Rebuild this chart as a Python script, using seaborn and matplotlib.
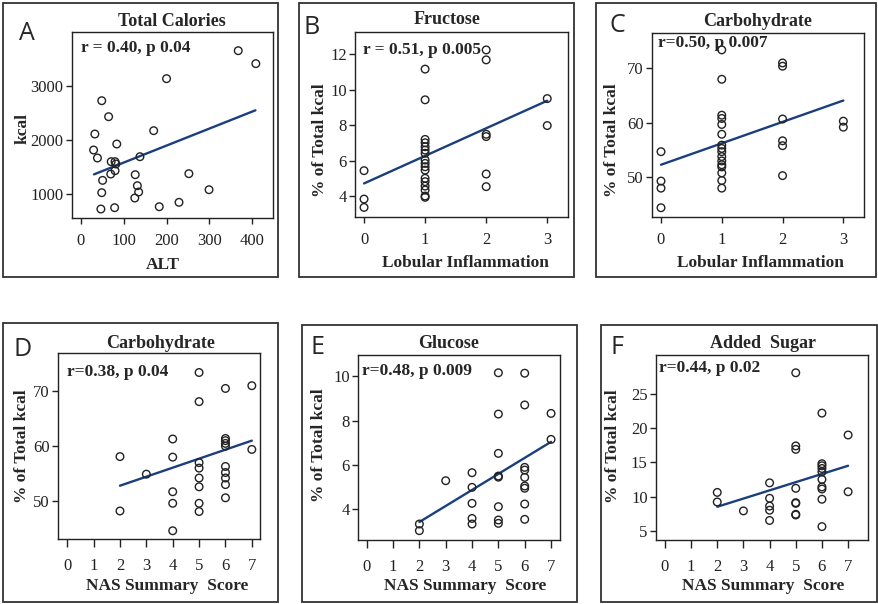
import matplotlib
matplotlib.use("Agg")
import matplotlib.pyplot as plt
from matplotlib.patches import Rectangle
import pandas as pd
import seaborn as sns

# ---------------- data ----------------
# A: Total calories vs ALT
alt_A = [367, 408, 200, 49, 65, 33, 170, 30, 84, 39, 71, 80, 82, 138,
         80, 70, 127, 252, 51, 132, 135, 49, 126, 299, 229, 183, 79, 47]
kcal_A = [3654, 3414, 3136, 2728, 2432, 2111, 2173, 1815, 1926, 1667, 1599,
          1599, 1556, 1691, 1432, 1370, 1358, 1377, 1253, 1154, 1037, 1025,
          926, 1080, 846, 765, 747, 722]

# B: Fructose vs lobular inflammation
lob_B = [0, 0, 0,
         1, 1, 1, 1, 1, 1, 1, 1, 1, 1, 1, 1, 1, 1, 1, 1, 1,
         2, 2, 2, 2, 2, 2,
         3, 3]
fru_B = [5.43, 3.83, 3.36,
         11.15, 9.42, 7.19, 7.0, 6.78, 6.59, 6.41, 6.03, 5.84, 5.65, 5.46,
         5.0, 4.81, 4.56, 4.34, 4.0, 3.93,
         12.23, 11.67, 7.48, 7.35, 5.24, 4.53,
         9.49, 7.97]

# C: Carbohydrate vs lobular inflammation
lob_C = [0, 0, 0, 0,
         1, 1, 1, 1, 1, 1, 1, 1, 1, 1, 1, 1, 1, 1, 1, 1,
         2, 2, 2, 2, 2, 2,
         3, 3]
carb_C = [54.7, 49.3, 48.0, 44.4,
          73.4, 68.0, 61.4, 60.8, 59.7, 57.9, 55.9, 55.3, 54.7, 53.8, 53.0,
          52.3, 51.9, 50.8, 49.4, 48.0,
          71.0, 70.4, 60.7, 56.7, 55.8, 50.3,
          60.3, 59.2]

# D: Carbohydrate vs NAS summary score
nas_D = [2, 2, 3, 4, 4, 4, 4, 4,
         5, 5, 5, 5, 5, 5, 5, 5,
         6, 6, 6, 6, 6, 6, 6, 6, 6, 6,
         7, 7]
carb_D = [58.0, 48.1, 54.8, 61.2, 57.9, 51.6, 49.5, 44.5,
          73.3, 68.0, 56.9, 55.9, 54.1, 52.5, 49.5, 48.0,
          70.4, 61.3, 60.9, 60.4, 59.9, 56.2, 55.1, 54.1, 52.9, 50.5,
          70.9, 59.3]

# E: Glucose vs NAS summary score
nas_E = [2, 2, 3, 4, 4, 4, 4, 4,
         5, 5, 5, 5, 5, 5, 5, 5,
         6, 6, 6, 6, 6, 6, 6, 6, 6,
         7, 7]
glu_E = [3.34, 3.04, 5.29, 5.65, 4.99, 4.27, 3.59, 3.34,
         10.15, 8.29, 6.52, 5.5, 5.45, 4.12, 3.52, 3.37,
         10.13, 8.70, 5.89, 5.77, 5.44, 5.05, 4.95, 4.24, 3.55,
         8.32, 7.15]

# F: Added sugar vs NAS summary score
nas_F = [2, 2, 3, 4, 4, 4, 4, 4,
         5, 5, 5, 5, 5, 5, 5, 5,
         6, 6, 6, 6, 6, 6, 6, 6, 6, 6,
         7, 7]
sug_F = [10.6, 9.2, 7.9, 12.0, 9.74, 8.6, 8.0, 6.5,
         28.1, 17.4, 16.9, 11.2, 9.1, 9.0, 7.4, 7.3,
         22.2, 14.8, 14.5, 14.1, 13.6, 12.5, 11.4, 11.1, 9.6, 5.6,
         19.0, 10.7]

# fitted regression lines as drawn in the reference (end points)
fit_x_A = [31, 407]
fit_y_A = [1364, 2550]
fit_x_B = [0, 3]
fit_y_B = [4.71, 9.37]
fit_x_C = [0, 3]
fit_y_C = [52.3, 64.1]
fit_x_D = [2, 7]
fit_y_D = [52.7, 60.9]
fit_x_E = [2, 7]
fit_y_E = [3.43, 7.04]
fit_x_F = [2, 7]
fit_y_F = [8.5, 14.5]

letters = ["A", "B", "C", "D", "E", "F"]
titles = ["Total Calories", "Fructose", "Carbohydrate",
          "Carbohydrate", "Glucose", "Added  Sugar"]
annotations = ["r = 0.40, p 0.04", "r = 0.51, p 0.005", "r=0.50, p 0.007",
               "r=0.38, p 0.04", "r=0.48, p 0.009", "r=0.44, p 0.02"]
xlabels = ["ALT", "Lobular Inflammation", "Lobular Inflammation",
           "NAS Summary  Score", "NAS Summary  Score", "NAS Summary  Score"]
ylabels = ["kcal", "% of Total kcal", "% of Total kcal",
           "% of Total kcal", "% of Total kcal", "% of Total kcal"]
xticks_list = [[0, 100, 200, 300, 400], [0, 1, 2, 3], [0, 1, 2, 3],
               list(range(8)), list(range(8)), list(range(8))]
yticks_list = [[1000, 2000, 3000], [4, 6, 8, 10, 12], [50, 60, 70],
               [50, 60, 70], [4, 6, 8, 10], [5, 10, 15, 20, 25]]
xs = [alt_A, lob_B, lob_C, nas_D, nas_E, nas_F]
ys = [kcal_A, fru_B, carb_C, carb_D, glu_E, sug_F]
fxs = [fit_x_A, fit_x_B, fit_x_C, fit_x_D, fit_x_E, fit_x_F]
fys = [fit_y_A, fit_y_B, fit_y_C, fit_y_D, fit_y_E, fit_y_F]

# ---------------- layout (pixels, top-left origin) ----------------
W, H = 879, 604
boxes = [(3, 3, 278, 277), (299, 3, 574, 277), (596, 3, 876, 277),
         (3, 323, 278, 602), (302, 325, 577, 602), (601, 325, 877, 602)]
axes_px = [(72, 32, 273, 218), (355, 32, 568, 217), (652, 33, 864, 217),
           (58, 353, 260, 539), (358, 355, 560, 540), (656, 355, 868, 540)]
xlims = [(-20.3, 448), (-0.148, 3.34), (-0.148, 3.34),
         (-0.35, 7.31), (-0.33, 7.34), (-0.34, 7.76)]
ylims = [(556, 4000), (2.82, 13.24), (42.7, 76.5),
         (43.0, 76.85), (2.62, 10.95), (3.64, 30.7)]
xtick_len = [4.5, 4.5, 4.5, 5.8, 5.8, 5.8]
xtick_pad = [6.5, 6.5, 6.5, 8.0, 8.0, 8.0]
letter_pos = [(27, 33), (312, 27), (617, 25), (23, 349), (318, 347), (617, 347)]
ann_pos = [(81, 48), (363, 50), (658, 43), (67, 372), (362, 371), (659, 368)]
title_pos = [(172, 21), (447, 19), (758, 22), (161, 343), (449, 343), (763, 343)]
xlabel_pos = [(163, 265), (465, 263), (760, 263), (167, 586), (465, 586), (763, 586)]
ylabel_pos = [(23, 128), (320, 140), (612, 140), (22, 446), (319, 445), (613, 446)]

sns.set_style("ticks")
plt.rcParams["font.family"] = ["Liberation Serif", "DejaVu Serif"]
plt.rcParams["axes.linewidth"] = 1.0

fig = plt.figure(figsize=(W / 100, H / 100), dpi=100)
fig.patch.set_facecolor("white")

LINE_COLOR = "#1b3f7d"

for i in range(6):
    x0, y0, x1, y1 = boxes[i]
    fig.patches.append(Rectangle((x0 / W, 1 - y1 / H), (x1 - x0) / W, (y1 - y0) / H,
                                 transform=fig.transFigure, fill=False,
                                 edgecolor="#333333", linewidth=1.3))
    a0, b0, a1, b1 = axes_px[i]
    ax = fig.add_axes([a0 / W, 1 - b1 / H, (a1 - a0) / W, (b1 - b0) / H])
    df = pd.DataFrame({"x": xs[i], "y": ys[i]})
    fit = pd.DataFrame({"x": fxs[i], "y": fys[i]})
    sns.lineplot(data=fit, x="x", y="y", ax=ax, color=LINE_COLOR,
                 linewidth=1.7, zorder=2)
    sns.scatterplot(data=df, x="x", y="y", ax=ax, s=30, facecolor="none",
                    edgecolor="#222222", linewidth=1.0, marker="o", zorder=3)
    ax.set_xlim(*xlims[i])
    ax.set_ylim(*ylims[i])
    ax.set_xticks(xticks_list[i])
    ax.set_yticks(yticks_list[i])
    ax.tick_params(axis="x", direction="out", length=xtick_len[i], width=1.0,
                   labelsize=12, pad=xtick_pad[i], colors="#222222")
    ax.tick_params(axis="y", direction="out", length=4.5, width=1.0,
                   labelsize=12, pad=1.5, colors="#222222")
    for sp in ax.spines.values():
        sp.set_visible(True)
        sp.set_color("#222222")
    ax.set_xlabel("")
    ax.set_ylabel("")
    # titles and axis labels placed at their reference positions
    tx, ty = title_pos[i]
    fig.text(tx / W, 1 - ty / H, titles[i], ha="center", va="center",
             fontsize=13, fontweight="bold")
    xx, xy = xlabel_pos[i]
    fig.text(xx / W, 1 - xy / H, xlabels[i], ha="center", va="center",
             fontsize=12.5, fontweight="bold")
    yx, yy = ylabel_pos[i]
    fig.text(yx / W, 1 - yy / H, ylabels[i], ha="center", va="center",
             rotation=90, fontsize=12.5, fontweight="bold")
    lx, ly = letter_pos[i]
    fig.text(lx / W, 1 - ly / H, letters[i], ha="center", va="center",
             fontsize=18, family=["Open Sans", "DejaVu Sans"])
    ax_x, ax_y = ann_pos[i]
    fig.text(ax_x / W, 1 - ax_y / H, annotations[i], ha="left", va="center",
             fontsize=12.5, fontweight="bold")

fig.savefig("out.png", dpi=100, facecolor="white")
